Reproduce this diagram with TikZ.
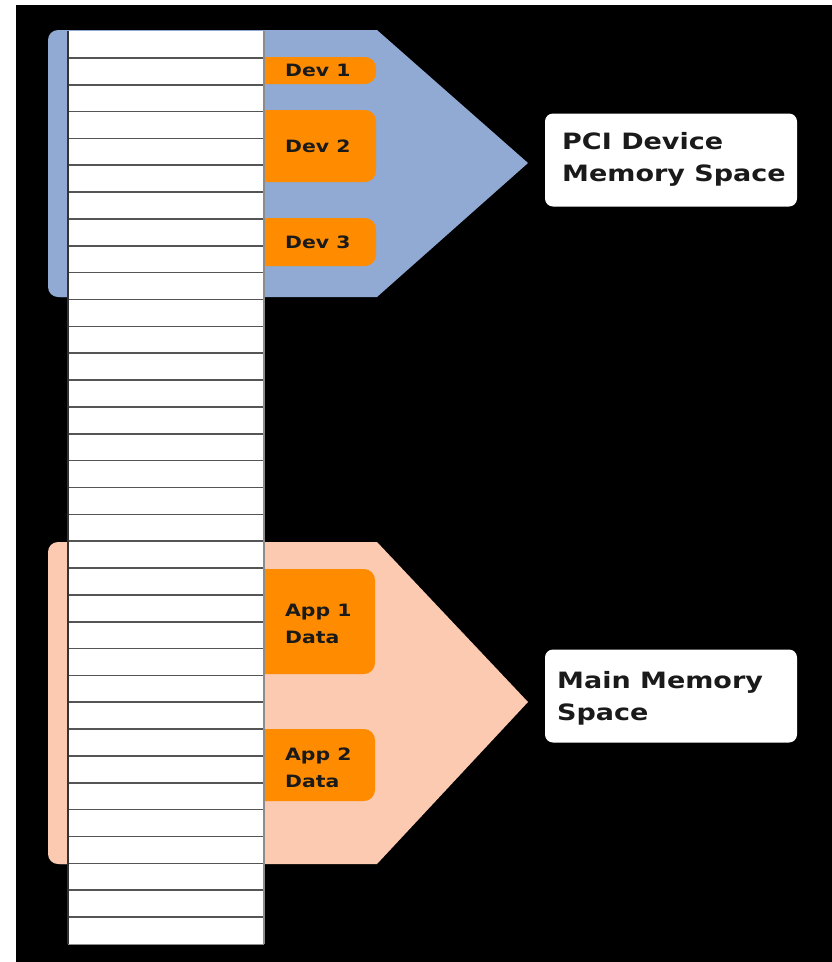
\documentclass[tikz,border=0pt]{standalone}
\usepackage{fontspec}
\newfontfamily\lblfont{DejaVu Sans Bold}[FakeStretch=1.2]
\definecolor{pcib}{HTML}{90AAD4}
\definecolor{mainp}{HTML}{FCC9B1}
\definecolor{orng}{HTML}{FF8C00}
\definecolor{txt}{HTML}{1A1A1A}
\definecolor{rowline}{HTML}{555555}
\tikzset{
  smalllbl/.style={anchor=north west, inner sep=0pt, text=txt, align=left,
    font=\lblfont\fontsize{17}{27}\selectfont},
  biglbl/.style={anchor=north west, inner sep=0pt, text=txt, align=left,
    font=\lblfont\fontsize{22.5}{32}\selectfont},
  labelbox/.style={fill=white, rounded corners=8pt, minimum width=252pt,
    minimum height=93pt, inner sep=0pt},
  orangebox/.style={fill=orng, rounded corners=11pt},
}
\begin{document}
\begin{tikzpicture}[x=1pt,y=-1pt]
\useasboundingbox (0,0) rectangle (832,962);
\fill[white] (0,0) rectangle (832,962);
\fill[black] (16,5) rectangle (832,962);
% PCI region
\fill[pcib] (60,30) -- (377,30) -- (528,163) -- (377,297) -- (60,297) -- cycle;
\fill[pcib, rounded corners=10pt] (48,30) rectangle (90,297);
% Main region
\fill[mainp] (60,542) -- (377,542) -- (528,702) -- (377,864) -- (60,864) -- cycle;
\fill[mainp, rounded corners=10pt] (48,542) rectangle (90,864);
% orange blocks
\fill[orangebox] (240,57) rectangle (376,84);
\fill[orangebox] (240,110) rectangle (376,182);
\fill[orangebox] (240,218) rectangle (376,266);
\fill[orangebox] (240,569) rectangle (375,674);
\fill[orangebox] (240,729) rectangle (375,801);
% memory column
\fill[white] (68,31) rectangle (264,944);
\foreach \i in {1,...,33} {
  \draw[rowline, line width=1.6pt] (68,{31+\i*26.85}) -- (264,{31+\i*26.85});
}
\draw[black!80, line width=1.3pt] (68,31) -- (68,944);
\draw[black!45, line width=1.6pt] (264,31) -- (264,944);
\draw[black!45, line width=1pt] (68,944) -- (264,944);
% labels
\node[smalllbl] (dev1) at (285,64) {Dev 1};
\node[smalllbl] (dev2) at (285,139.5) {Dev 2};
\node[smalllbl] (dev3) at (285,235.5) {Dev 3};
\node[smalllbl] (app1) at (285,604) {App 1\\Data};
\node[smalllbl] (app2) at (285,748) {App 2\\Data};
% label boxes
\node[labelbox] (pcibox) at (671,160) {};
\node[biglbl] (pcitext) at (562,132.5) {PCI Device\\Memory Space};
\node[labelbox] (mainbox) at (671,696) {};
\node[biglbl] (maintext) at (557,671.5) {Main Memory\\Space};
\end{tikzpicture}
\end{document}
